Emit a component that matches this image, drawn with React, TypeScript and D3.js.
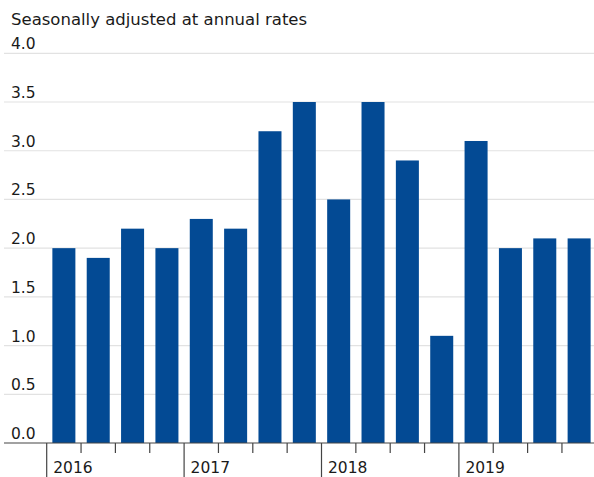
import React from "react";
import * as d3 from "d3";

const years = ["2016", "2017", "2018", "2019"];
const quarters = years.flatMap((y) => ["Q1", "Q2", "Q3", "Q4"].map((q) => `${y}${q}`));
const values = [2.0, 1.9, 2.2, 2.0, 2.3, 2.2, 3.2, 3.5, 2.5, 3.5, 2.9, 1.1, 3.1, 2.0, 2.1, 2.1];
const yTicks = [0, 0.5, 1.0, 1.5, 2.0, 2.5, 3.0, 3.5, 4.0];
const title = "Seasonally adjusted at annual rates";

const W = 594;
const H = 477;
const FONT = "'DejaVu Sans', sans-serif";

export default function App() {
  const x = d3
    .scaleBand<string>()
    .domain(quarters)
    .range([46.7, 596.3])
    .paddingInner(0.33)
    .paddingOuter(0.165);
  const y = d3.scaleLinear().domain([0, 4]).range([443, 53.3]);
  const step = x.step();
  const gap = (step * 0.33) / 2;

  return (
    <svg width={W} height={H} style={{ position: "absolute", left: 0, top: 0 }}>
      <rect width={W} height={H} fill="#fff" />
      <text x={11} y={25} fontFamily={FONT} fontSize={16.5} fill="#1a1a1a">
        {title}
      </text>
      {yTicks.map((t) => (
        <g key={t}>
          {t !== 0 && (
            <line x1={4} x2={W} y1={y(t)} y2={y(t)} stroke="#e2e2e2" strokeWidth={1.2} />
          )}
          <text x={11} y={y(t) - 4} fontFamily={FONT} fontSize={15.5} fill="#1a1a1a">
            {t.toFixed(1)}
          </text>
        </g>
      ))}
      {quarters.map((q, i) => (
        <rect
          key={q}
          x={x(q)}
          y={y(values[i])}
          width={x.bandwidth()}
          height={y(0) - y(values[i])}
          fill="#034a94"
        />
      ))}
      <line x1={4} x2={W} y1={y(0)} y2={y(0)} stroke="#444" strokeWidth={1.2} />
      {quarters.map((q, i) => {
        const tx = (x(q) as number) - gap;
        const major = i % 4 === 0;
        return (
          <g key={"t" + q}>
            <line x1={tx} x2={tx} y1={y(0)} y2={major ? H : y(0) + 10} stroke="#444" strokeWidth={1.2} />
            {major && (
              <text x={tx + 6.5} y={473} fontFamily={FONT} fontSize={15.5} fill="#1a1a1a">
                {years[i / 4]}
              </text>
            )}
          </g>
        );
      })}
    </svg>
  );
}
